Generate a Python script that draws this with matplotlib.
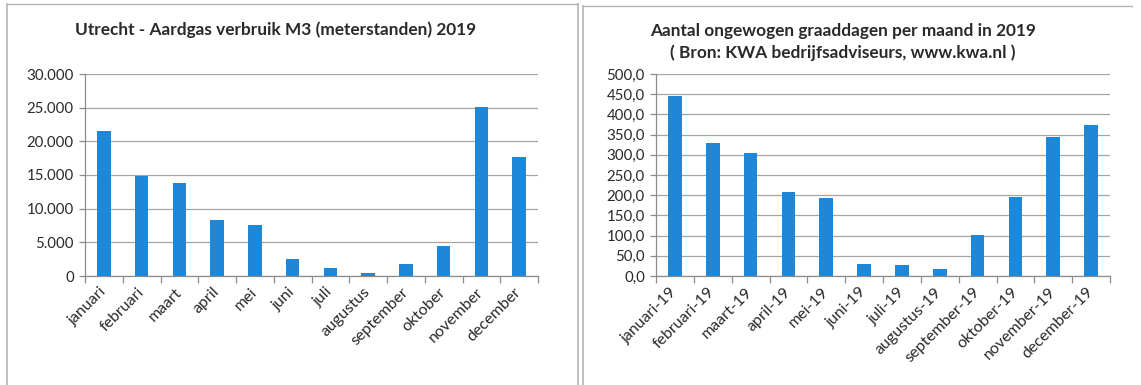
import matplotlib
matplotlib.use("Agg")
import matplotlib.pyplot as plt
from matplotlib.lines import Line2D

plt.rcParams['font.family'] = ['Lato', 'DejaVu Sans']

months_left = ["januari", "februari", "maart", "april", "mei", "juni", "juli",
               "augustus", "september", "oktober", "november", "december"]
gas_m3 = [21500, 14900, 13800, 8250, 7620, 2540, 1170, 380, 1760, 4400, 25050, 17650]
left_yticks = [0, 5000, 10000, 15000, 20000, 25000, 30000]
left_yticklabels = ["0", "5.000", "10.000", "15.000", "20.000", "25.000", "30.000"]

months_right = ["januari-19", "februari-19", "maart-19", "april-19", "mei-19", "juni-19",
                "juli-19", "augustus-19", "september-19", "oktober-19", "november-19", "december-19"]
graaddagen = [446, 330, 305, 208, 192, 30, 27, 17, 101, 195, 344, 373]
right_yticks = [0, 50, 100, 150, 200, 250, 300, 350, 400, 450, 500]
right_yticklabels = ["0,0", "50,0", "100,0", "150,0", "200,0", "250,0", "300,0",
                     "350,0", "400,0", "450,0", "500,0"]

W, H = 1141, 385
fig = plt.figure(figsize=(W / 100, H / 100), dpi=100)
fig.patch.set_facecolor("white")

bar_color = "#1f87d8"
grid_color = "#a6a6a6"
axis_color = "#8c8c8c"
text_color = "#2a2a2a"

def px(x0, y0, x1, y1):
    return [x0 / W, 1 - y1 / H, (x1 - x0) / W, (y1 - y0) / H]

def setup(ax, cats, vals, yticks, yticklabels, ymax):
    x = list(range(len(cats)))
    ax.bar(x, vals, width=0.36, color=bar_color, zorder=3)
    ax.set_xlim(-0.5, len(cats) - 0.5)
    ax.set_ylim(0, ymax)
    ax.set_yticks(yticks)
    ax.set_yticklabels(yticklabels, fontsize=10.8, color=text_color)
    ax.set_xticks(x)
    ax.set_xticklabels(cats, rotation=45, ha="right", va="center",
                       rotation_mode="anchor", fontsize=11.5, color=text_color)
    ax.set_xticks([i - 0.5 for i in range(len(cats) + 1)], minor=True)
    ax.tick_params(axis="x", which="major", length=0, pad=10)
    ax.tick_params(axis="x", which="minor", length=5, color=axis_color, width=0.9)
    ax.tick_params(axis="y", which="major", length=4, color=axis_color, width=0.9, pad=4)
    ax.grid(axis="y", color=grid_color, linewidth=0.9, zorder=0)
    for s in ["top", "right"]:
        ax.spines[s].set_visible(False)
    for s in ["left", "bottom"]:
        ax.spines[s].set_color(axis_color)
        ax.spines[s].set_linewidth(0.9)
    ax.set_facecolor("none")

ax1 = fig.add_axes(px(85, 74, 538, 276))
setup(ax1, months_left, gas_m3, left_yticks, left_yticklabels, 30000)

ax2 = fig.add_axes(px(656, 74, 1110, 276))
setup(ax2, months_right, graaddagen, right_yticks, right_yticklabels, 500)

fig.text(276 / W, 1 - 30 / H, "Utrecht - Aardgas verbruik M3 (meterstanden) 2019",
         ha="center", va="center", fontsize=12.4, fontweight="bold", color=text_color)
fig.text(843 / W, 1 - 31 / H, "Aantal ongewogen graaddagen per maand in 2019",
         ha="center", va="center", fontsize=12.4, fontweight="bold", color=text_color)
fig.text(843 / W, 1 - 53 / H, "( Bron: KWA bedrijfsadviseurs, www.kwa.nl )",
         ha="center", va="center", fontsize=12.4, fontweight="bold", color=text_color)

border = "#b4b4b4"
def fline(x0, y0, x1, y1, lw=1.0):
    fig.add_artist(Line2D([x0 / W, x1 / W], [1 - y0 / H, 1 - y1 / H],
                          color=border, linewidth=lw, transform=fig.transFigure))

fline(7, 4, 7, 385, 1.2)
fline(7, 4, 578, 4)
fline(578, 4, 578, 385, 1.2)
fline(583, 6, 583, 385, 1.2)
fline(583, 6, 1132, 6)

fig.savefig("out.png", dpi=100, facecolor="white")
